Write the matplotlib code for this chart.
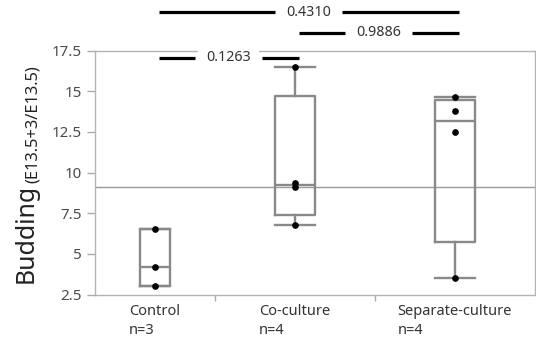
import matplotlib
matplotlib.use("Agg")
import matplotlib.pyplot as plt
import numpy as np

plt.rcParams['font.family'] = ['Noto Sans', 'DejaVu Sans']

# ---- data ----
categories = ["Control", "Co-culture", "Separate-culture"]
control = [6.5, 4.2, 3.0]
co_culture = [16.5, 9.35, 9.1, 6.8]
separate = [14.65, 13.8, 12.5, 3.5]
groups = [control, co_culture, separate]
comparisons = [(0, 1), (1, 2), (0, 2)]
p_values = ["0.1263", "0.9886", "0.4310"]
p_levels = [17.05, 18.6, 19.85]
yticks = [2.5, 5, 7.5, 10, 12.5, 15, 17.5]
ytick_labels = ["2.5", "5", "7.5", "10", "12.5", "15", "17.5"]


def quantile(vals, p):
    v = np.sort(np.asarray(vals, float))
    n = len(v)
    pos = p * (n + 1)
    if pos <= 1:
        return v[0]
    if pos >= n:
        return v[-1]
    k = int(np.floor(pos))
    f = pos - k
    return v[k - 1] + f * (v[k] - v[k - 1])


W, H = 536, 341
fig = plt.figure(figsize=(W / 100, H / 100), dpi=100)
ax = fig.add_axes([94.5 / W, 46.5 / H, 440.5 / W, 244 / H])

ns = [len(g) for g in groups]
edges = np.concatenate([[0], np.cumsum(ns)])
centers = (edges[:-1] + edges[1:]) / 2.0
widths = [0.25 * n for n in ns]

box_color = "#898989"
stats = []
for g in groups:
    stats.append(dict(med=quantile(g, 0.5), q1=quantile(g, 0.25), q3=quantile(g, 0.75),
                      whislo=min(g), whishi=max(g), fliers=[]))
lp = dict(color=box_color, lw=1.7)
ax.bxp(stats, positions=centers, widths=widths, capwidths=widths, showfliers=False,
       boxprops=lp, medianprops=lp, whiskerprops=lp, capprops=lp, manage_ticks=False)

for c, g in zip(centers, groups):
    ax.plot(np.full(len(g), c), g, "o", color="black", ms=3.8, zorder=5)

all_vals = np.concatenate([np.asarray(g, float) for g in groups])
ax.axhline(all_vals.mean(), color="#9a9a9a", lw=1.0, zorder=1)

ax.set_xlim(edges[0], edges[-1])
ax.set_ylim(2.5, 17.5)
ax.set_yticks(yticks)
ax.set_yticklabels(ytick_labels)
ax.set_xticks(edges[1:-1])
ax.set_xticklabels([])
ax.tick_params(axis="y", direction="out", length=6, width=1, color="#aaaaaa",
               labelsize=10.9, labelcolor="#4a4a4a", pad=3)
ax.tick_params(axis="x", direction="out", length=4, width=1, color="#aaaaaa")
for s in ax.spines.values():
    s.set_color("#b4b4b4")
    s.set_linewidth(1.0)

for c, name, n in zip(centers, categories, ns):
    ax.annotate(f"{name}\nn={n}", xy=(c, 0), xycoords=("data", "axes fraction"),
                xytext=(0, -7), textcoords="offset points", ha="center", va="top",
                multialignment="left", fontsize=10.5, color="#333333", linespacing=1.3,
                annotation_clip=False)

# significance bars: text centred, black line broken around it
sig_texts = []
for (i, j), lab, y in zip(comparisons, p_values, p_levels):
    x1 = centers[i] + 0.1
    x2 = centers[j] + 0.1
    t = ax.text((x1 + x2) / 2, y, lab, ha="center", va="center", fontsize=10.3, color="#333333",
                bbox=dict(facecolor="white", edgecolor="none", boxstyle="square,pad=0.55"),
                clip_on=False, zorder=4)
    sig_texts.append((t, x1, x2, y))

# y label: big "Budding" followed by smaller "(E13.5+3/E13.5)"
t1 = fig.text(33 / W, (H - 283) / H, "Budding", rotation=90, rotation_mode="anchor",
              ha="left", va="baseline", fontsize=17.9, color="#222222")
fig.canvas.draw()
renderer = fig.canvas.get_renderer()
inv = ax.transData.inverted()
gap_px = 11
for t, x1, x2, y in sig_texts:
    ext = t.get_window_extent(renderer)
    xl = inv.transform((ext.x0 - gap_px, ext.y0))[0]
    xr = inv.transform((ext.x1 + gap_px, ext.y0))[0]
    for a, b in ((x1, xl), (xr, x2)):
        ax.plot([a, b], [y, y], color="black", lw=2.3, solid_capstyle="butt",
                clip_on=False, zorder=3)

bb = t1.get_window_extent(renderer)
fig.text(37 / W, (bb.y1 + 1) / H, "(E13.5+3/E13.5)", rotation=90, rotation_mode="anchor",
         ha="left", va="baseline", fontsize=11.8, color="#222222")

fig.savefig("out.png", dpi=100)
